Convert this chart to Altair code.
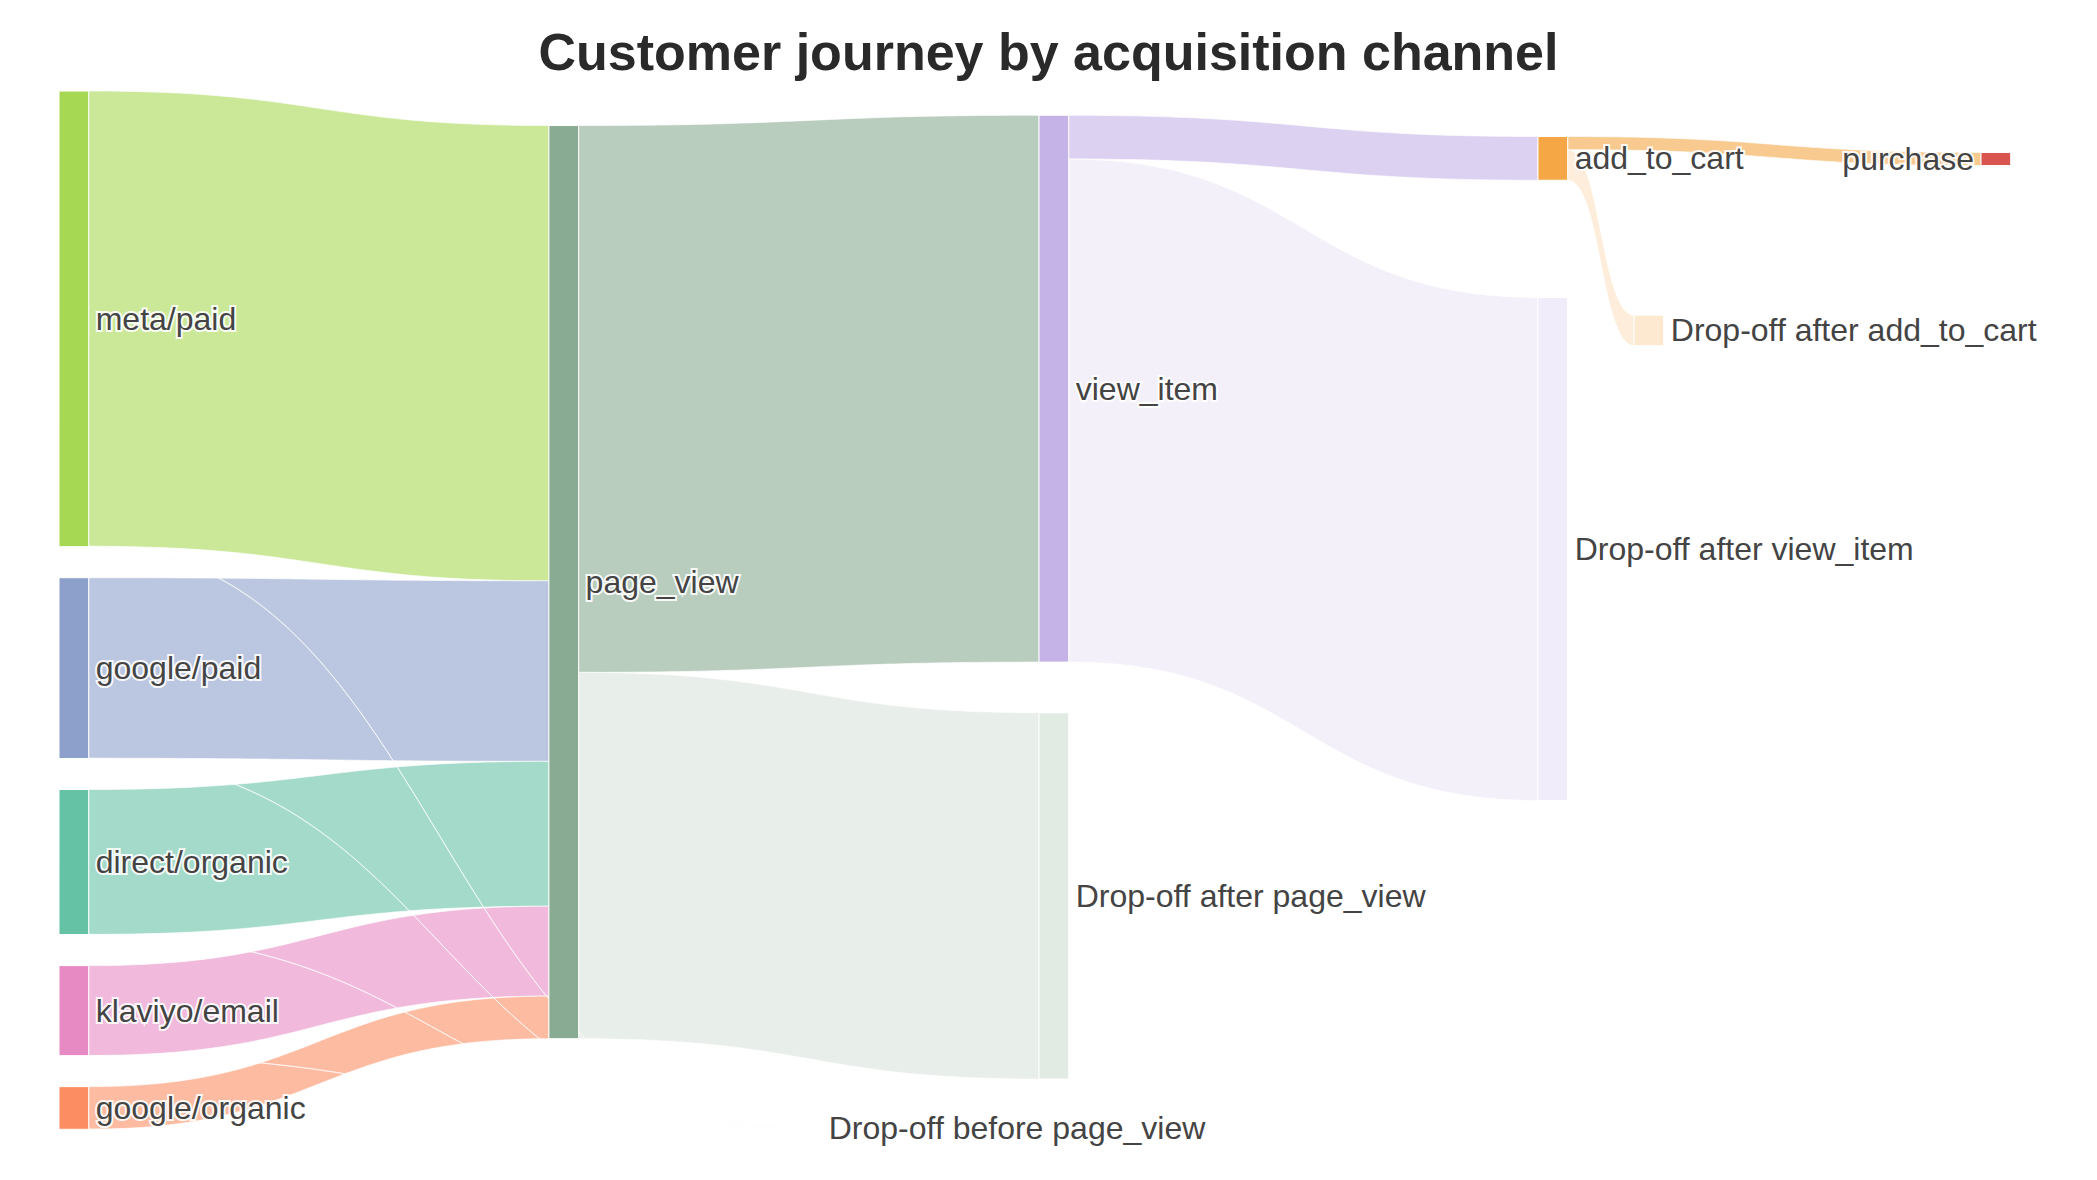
import altair as alt
import numpy as np
import pandas as pd

# ---------------- data ----------------
node_labels = [
    "meta/paid", "google/paid", "direct/organic", "klaviyo/email", "google/organic",
    "page_view", "Drop-off before page_view",
    "view_item", "Drop-off after page_view",
    "add_to_cart", "Drop-off after view_item",
    "purchase", "Drop-off after add_to_cart",
]
link_source = [0, 1, 2, 3, 4, 5, 5, 7, 7, 9, 9, 0, 1, 2, 3, 4]
link_target = [5, 5, 5, 5, 5, 7, 8, 9, 10, 11, 12, 6, 6, 6, 6, 6]
link_value = [6244, 2476, 1987, 1233, 584, 7500, 5024, 600, 6900, 180, 420, 6, 4, 3, 2, 1]

# ---------------- style ----------------
node_rgb = [
    (166, 216, 84), (141, 160, 203), (102, 194, 165), (231, 138, 195), (252, 141, 98),
    (138, 171, 147), (160, 205, 200),
    (197, 179, 232), (138, 171, 147),
    (245, 166, 69), (197, 179, 232),
    (217, 83, 79), (245, 166, 69),
]
node_alpha = [1, 1, 1, 1, 1, 1, 0.4, 1, 0.25, 1, 0.25, 1, 0.25]

# plotly-like node placement (fractions of the sankey domain); None = stacked column
node_xf = [0, 0, 0, 0, 0, 0.2549, 0.3814, 0.5099, 0.5099, 0.7695, 0.7695, 1.0, 0.8195]
node_yf = [None, None, None, None, None, 0.473, 0.9988, 0.2867, 0.7752, 0.0649, 0.4411, 0.0655, 0.2306]

X0, X1 = 59.0, 1981.0          # domain for node left edges
Y0, Y1 = 91.0, 1129.3          # vertical domain
PAD = 31.0
THICK = 29.7
W, H = 2080, 1160
FONT = "Liberation Sans"

# ---------------- layout ----------------
n = len(node_labels)
vin = [0.0] * n
vout = [0.0] * n
for s, t, v in zip(link_source, link_target, link_value):
    vout[s] += v
    vin[t] += v
nval = [max(a, b) for a, b in zip(vin, vout)]

col0 = [i for i in range(n) if node_yf[i] is None]
k = (Y1 - Y0 - PAD * (len(col0) - 1)) / sum(nval[i] for i in col0)

ny0 = [0.0] * n
ny1 = [0.0] * n
y = Y0
for i in col0:
    ny0[i] = y
    ny1[i] = y + nval[i] * k
    y = ny1[i] + PAD
for i in range(n):
    if node_yf[i] is not None:
        c = Y0 + node_yf[i] * (Y1 - Y0)
        h = nval[i] * k
        ny0[i] = c - h / 2
        ny1[i] = c + h / 2
nx0 = [X0 + f * (X1 - X0) for f in node_xf]
nx1 = [x + THICK for x in nx0]

# link offsets
L = len(link_value)
src_off = [0.0] * L
tgt_off = [0.0] * L
for i in range(n):
    outs = sorted([j for j in range(L) if link_source[j] == i], key=lambda j: ny0[link_target[j]])
    off = ny0[i]
    for j in outs:
        src_off[j] = off
        off += link_value[j] * k
    ins = sorted([j for j in range(L) if link_target[j] == i], key=lambda j: ny0[link_source[j]])
    off = ny0[i]
    for j in ins:
        tgt_off[j] = off
        off += link_value[j] * k


def rgba(rgb, a):
    return f"rgba({rgb[0]},{rgb[1]},{rgb[2]},{a})"


def hexc(rgb):
    return "#%02x%02x%02x" % rgb


xsc = alt.Scale(domain=[8, 8 + W], nice=False, zero=False)
ysc = alt.Scale(domain=[8, 8 + H], nice=False, zero=False, reverse=True)

ts = np.linspace(0, 1, 61)
link_layers = []
for j in range(L):
    s, t, v = link_source[j], link_target[j], link_value[j]
    xs, xe = nx1[s], nx0[t]
    w = v * k
    alpha = 0.2 if node_labels[t].startswith("Drop-off") else 0.6
    fx = 1.5 * ts - 1.5 * ts ** 2 + ts ** 3
    fy = 3 * ts ** 2 - 2 * ts ** 3
    top = src_off[j] + (tgt_off[j] - src_off[j]) * fy
    df = pd.DataFrame(dict(step=np.arange(len(ts)), x=xs + (xe - xs) * fx, ytop=top, ybot=top + w))
    layer = alt.Chart(df).mark_area(
        color=hexc(node_rgb[s]), fillOpacity=alpha, stroke="white", strokeWidth=0.8,
        strokeOpacity=0.8, interpolate="linear",
    ).encode(
        x=alt.X("x:Q", scale=xsc, axis=None),
        y=alt.Y("ytop:Q", scale=ysc, axis=None, stack=None),
        y2="ybot:Q",
    )
    link_layers.append(layer)

nodes_df = pd.DataFrame(dict(
    label=node_labels, x=nx0, x2=nx1, y=ny0, y2=ny1,
    fill=[rgba(c, a) for c, a in zip(node_rgb, node_alpha)],
))

lab_rows = []
for i in range(n):
    c = (ny0[i] + ny1[i]) / 2
    if node_xf[i] >= 0.999:
        lab_rows.append(dict(label=node_labels[i], x=nx0[i] - 7, y=c, side="right"))
    else:
        lab_rows.append(dict(label=node_labels[i], x=nx1[i] + 7, y=c, side="left"))
labels_df = pd.DataFrame(lab_rows)

title_df = pd.DataFrame(dict(t=["Customer journey by acquisition channel"], x=[1048.5], y=[70.0]))

# ---------------- chart ----------------
nodes = alt.Chart(nodes_df).mark_rect(stroke="white", strokeWidth=1).encode(
    x=alt.X("x:Q", scale=xsc, axis=None),
    x2="x2:Q",
    y=alt.Y("y:Q", scale=ysc, axis=None),
    y2="y2:Q",
    fill=alt.Fill("fill:N", scale=None),
)


def text_layer(side, align, halo):
    base = alt.Chart(labels_df).transform_filter(alt.datum.side == side)
    if halo:
        mk = base.mark_text(align=align, baseline="alphabetic", dy=11, font=FONT, fontSize=32,
                            fill="white", stroke="white", strokeWidth=4, strokeOpacity=0.9)
    else:
        mk = base.mark_text(align=align, baseline="alphabetic", dy=11, font=FONT, fontSize=32,
                            fill="#444444")
    return mk.encode(
        x=alt.X("x:Q", scale=xsc, axis=None),
        y=alt.Y("y:Q", scale=ysc, axis=None),
        text="label:N",
    )


title = alt.Chart(title_df).mark_text(
    align="center", baseline="alphabetic", font=FONT, fontSize=52, fontWeight="bold", fill="#2a2a2a"
).encode(
    x=alt.X("x:Q", scale=xsc, axis=None),
    y=alt.Y("y:Q", scale=ysc, axis=None),
    text="t:N",
)

chart = alt.layer(
    *link_layers, nodes,
    text_layer("left", "left", True), text_layer("left", "left", False),
    text_layer("right", "right", True), text_layer("right", "right", False),
    title,
).properties(
    width=W, height=H, padding=0, autosize=alt.AutoSizeParams(type="none"),
).configure_view(stroke=None)

chart.save("out.html", embed_options={"renderer": "svg", "actions": False})
